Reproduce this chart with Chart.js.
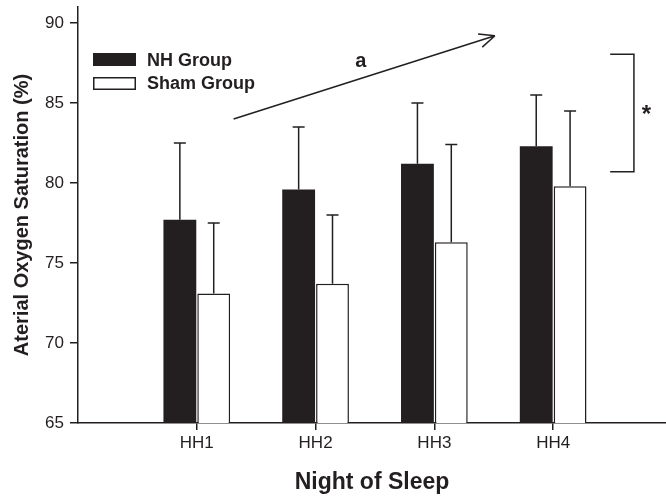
<!DOCTYPE html>
<html>
<head>
<meta charset="utf-8">
<script src="https://cdn.jsdelivr.net/npm/chart.js@4.4.0/dist/chart.umd.min.js"></script>
<style>
  html, body { margin: 0; padding: 0; background: #fff; }
  #wrap { width: 666px; height: 497px; }
</style>
</head>
<body>
<div id="wrap"><canvas id="chart" width="666" height="497"></canvas></div>
<script>
const nights = ['HH1', 'HH2', 'HH3', 'HH4'];
const nhMean = [77.7, 79.6, 81.2, 82.3];
const nhSD = [4.8, 3.9, 3.8, 3.2];
const shamMean = [73.1, 73.7, 76.3, 79.8];
const shamSD = [4.4, 4.3, 6.1, 4.7];
const yTicks = [65, 70, 75, 80, 85, 90];
const xTicks = [1, 2, 3, 4];

const ink = '#231f20';
const family = '"Liberation Sans", Arial, sans-serif';

// error bars (upper only), trend arrow, bracket and the legend
const extras = {
    id: 'extras',
    afterDatasetsDraw(chart) {
        const ctx = chart.ctx;
        const x = chart.scales.x, y = chart.scales.y;
        ctx.save();
        ctx.strokeStyle = ink;
        ctx.fillStyle = ink;
        ctx.lineWidth = 1.5;

        [nhSD, shamSD].forEach((sd, d) => {
            const meta = chart.getDatasetMeta(d);
            meta.data.forEach((bar, i) => {
                const top = y.getPixelForValue(chart.data.datasets[d].data[i].y + sd[i]);
                ctx.beginPath();
                ctx.moveTo(bar.x, bar.y);
                ctx.lineTo(bar.x, top);
                ctx.moveTo(bar.x - 6, top);
                ctx.lineTo(bar.x + 6, top);
                ctx.stroke();
            });
        });

        // arrow "a"
        const x0 = x.getPixelForValue(1.31), y0 = y.getPixelForValue(84.0);
        const x1 = x.getPixelForValue(3.51), y1 = y.getPixelForValue(89.2);
        const ang = Math.atan2(y1 - y0, x1 - x0);
        ctx.beginPath();
        ctx.moveTo(x0, y0);
        ctx.lineTo(x1, y1);
        [-1, 1].forEach(s => {
            ctx.moveTo(x1, y1);
            ctx.lineTo(x1 - 17 * Math.cos(ang + s * 0.42), y1 - 17 * Math.sin(ang + s * 0.42));
        });
        ctx.stroke();

        ctx.font = 'bold 20px ' + family;
        ctx.textAlign = 'center';
        ctx.textBaseline = 'middle';
        ctx.fillText('a', x.getPixelForValue(2.38), y.getPixelForValue(87.6));

        // bracket "*"
        const bl = x.getPixelForValue(4.48), br = x.getPixelForValue(4.68);
        const bt = y.getPixelForValue(88.05), bb = y.getPixelForValue(80.7);
        ctx.beginPath();
        ctx.moveTo(bl, bt);
        ctx.lineTo(br, bt);
        ctx.lineTo(br, bb);
        ctx.lineTo(bl, bb);
        ctx.stroke();
        ctx.font = 'bold 24px ' + family;
        ctx.fillText('*', x.getPixelForValue(4.785), y.getPixelForValue(84.2));

        // legend
        const area = chart.chartArea;
        const lx = area.left + 15;
        ctx.fillRect(lx, area.top + 46, 43, 13);
        ctx.fillStyle = '#fff';
        ctx.fillRect(lx, area.top + 70, 43, 12);
        ctx.strokeRect(lx + 0.75, area.top + 70.75, 41.5, 11.5);
        ctx.fillStyle = ink;
        ctx.font = 'bold 18px ' + family;
        ctx.textAlign = 'left';
        ctx.fillText(chart.data.datasets[0].label, lx + 54, area.top + 54);
        ctx.fillText(chart.data.datasets[1].label, lx + 54, area.top + 77.5);
        ctx.restore();
    }
};

new Chart(document.getElementById('chart'), {
    type: 'bar',
    data: {
        datasets: [
            {
                label: 'NH Group',
                data: xTicks.map((v, i) => ({ x: v, y: nhMean[i] })),
                backgroundColor: ink,
                borderWidth: 0,
                categoryPercentage: 0.57,
                barPercentage: 0.97,
            },
            {
                label: 'Sham Group',
                data: xTicks.map((v, i) => ({ x: v, y: shamMean[i] })),
                backgroundColor: '#fff',
                borderColor: ink,
                borderWidth: 1.5,
                categoryPercentage: 0.57,
                barPercentage: 0.97,
            },
        ],
    },
    options: {
        responsive: false,
        animation: false,
        layout: { padding: { top: 7, right: 0, left: 0, bottom: 0 } },
        plugins: {
            legend: { display: false },
            tooltip: { enabled: false },
        },
        scales: {
            x: {
                type: 'linear',
                offset: false,
                min: 0,
                max: 4.95,
                afterBuildTicks: s => { s.ticks = xTicks.map(v => ({ value: v })); },
                afterFit: s => { s.height = 74; s.paddingLeft = 0; s.paddingRight = 0; },
                ticks: {
                    callback: v => nights[v - 1],
                    font: { family, size: 17 },
                    color: ink,
                    padding: 3,
                    maxRotation: 0,
                },
                grid: { offset: false, drawOnChartArea: false, color: ink, tickLength: 7, lineWidth: 1.5 },
                border: { color: ink, width: 1.5 },
                title: {
                    display: true,
                    text: 'Night of Sleep',
                    font: { family, size: 23, weight: 'bold' },
                    color: ink,
                    padding: { top: 0, bottom: 1 },
                },
            },
            y: {
                min: 65,
                max: 91,
                afterBuildTicks: s => { s.ticks = yTicks.map(v => ({ value: v })); },
                afterFit: s => { s.width = 78; s.paddingTop = 0; s.paddingBottom = 0; },
                ticks: {
                    font: { family, size: 17 },
                    color: ink,
                    padding: 6,
                },
                grid: { drawOnChartArea: false, color: ink, tickLength: 8, lineWidth: 1.5 },
                border: { color: ink, width: 1.5 },
                title: {
                    display: true,
                    text: 'Aterial Oxygen Saturation (%)',
                    font: { family, size: 20, weight: 'bold' },
                    color: ink,
                    padding: { top: 10, bottom: 0 },
                },
            },
        },
    },
    plugins: [extras],
});
</script>
</body>
</html>
